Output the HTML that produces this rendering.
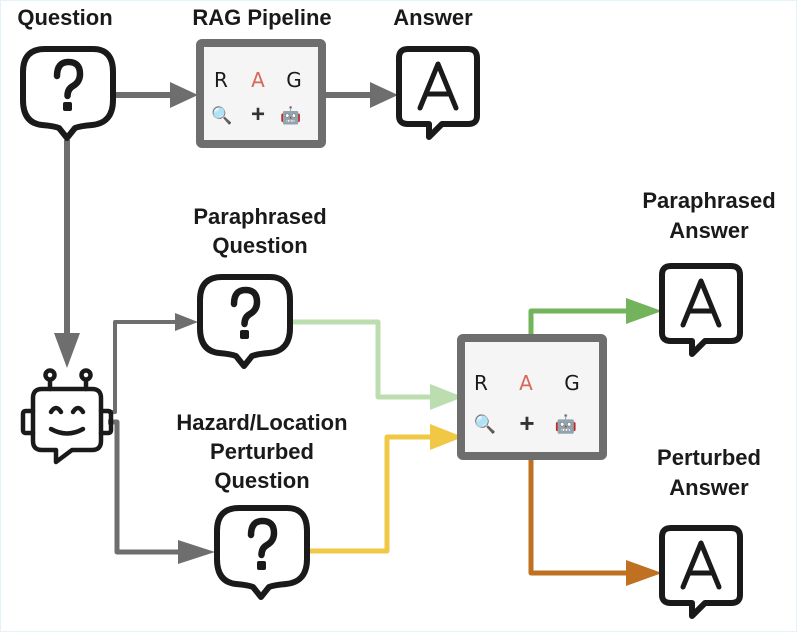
<!DOCTYPE html>
<html><head><meta charset="utf-8"><style>
html,body{margin:0;padding:0;background:#fff;}
svg{display:block;}
text{font-family:"Liberation Sans",sans-serif;}
.lbl{font-weight:bold;font-size:22px;fill:#1a1a1a;text-anchor:middle;}
.bub{fill:#fff;stroke:#1a1a1a;stroke-width:6;stroke-linejoin:round;stroke-linecap:round;}
.rag{font-size:20px;text-anchor:middle;font-family:"DejaVu Sans",sans-serif;}
</style></head><body>
<svg width="797" height="632" viewBox="0 0 797 632" xmlns="http://www.w3.org/2000/svg">
<rect x="0.5" y="0.5" width="796" height="631" fill="#fff" stroke="#e4f3fa"/>
<!-- labels -->
<text class="lbl" x="65" y="25">Question</text>
<text class="lbl" x="262" y="25">RAG Pipeline</text>
<text class="lbl" x="433" y="25">Answer</text>
<text class="lbl" x="260" y="224">Paraphrased</text>
<text class="lbl" x="260" y="253">Question</text>
<text class="lbl" x="262" y="430">Hazard/Location</text>
<text class="lbl" x="262" y="459">Perturbed</text>
<text class="lbl" x="262" y="488">Question</text>
<text class="lbl" x="709" y="208">Paraphrased</text>
<text class="lbl" x="709" y="238">Answer</text>
<text class="lbl" x="709" y="465">Perturbed</text>
<text class="lbl" x="709" y="495">Answer</text>

<!-- connectors -->
<g fill="none" stroke-linejoin="round">
<path d="M115 95 H172" stroke="#6e6e6e" stroke-width="6"/>
<path d="M325 95 H372" stroke="#6e6e6e" stroke-width="6"/>
<path d="M67 140 V335" stroke="#6e6e6e" stroke-width="6"/>
<path d="M108 412 H115 V322 H180" stroke="#6e6e6e" stroke-width="4"/>
<path d="M108 422 H117 V552 H185" stroke="#6e6e6e" stroke-width="5"/>
<path d="M292 322 H378 V397 H435" stroke="#bcddb0" stroke-width="5"/>
<path d="M308 551 H387 V437 H435" stroke="#f0c846" stroke-width="5"/>
<path d="M531 334 V311 H630" stroke="#72b35c" stroke-width="5"/>
<path d="M531 460 V573 H630" stroke="#bf7020" stroke-width="5"/>
</g>
<g stroke="none">
<polygon points="170,82 198,95 170,108" fill="#6e6e6e"/>
<polygon points="370,82 398,95 370,108" fill="#6e6e6e"/>
<polygon points="54,333 80,333 67,368" fill="#6e6e6e"/>
<polygon points="175,313 198,322 175,331" fill="#6e6e6e"/>
<polygon points="178,540 215,552 178,564" fill="#6e6e6e"/>
<polygon points="430,384 463,397 430,410" fill="#bcddb0"/>
<polygon points="430,424 463,437 430,450" fill="#f0c846"/>
<polygon points="626,298 662,311 626,324" fill="#72b35c"/>
<polygon points="626,560 662,573 626,586" fill="#bf7020"/>
</g>

<!-- RAG boxes -->
<rect x="200" y="43" width="122" height="101" fill="#f5f5f5" stroke="#6e6e6e" stroke-width="8" rx="2"/>
<text class="rag" x="221" y="87" fill="#1a1a1a">R</text>
<text class="rag" x="258" y="87" fill="#d9675a">A</text>
<text class="rag" x="294" y="87" fill="#1a1a1a">G</text>
<text x="222" y="121" font-size="17" text-anchor="middle">🔍</text>
<text x="258" y="122" font-size="24" font-weight="bold" fill="#333" text-anchor="middle">+</text>
<text x="291" y="121" font-size="17" text-anchor="middle">🤖</text>

<rect x="461" y="338" width="142" height="118" fill="#f5f5f5" stroke="#6e6e6e" stroke-width="8" rx="2"/>
<text class="rag" x="481" y="390" fill="#1a1a1a">R</text>
<text class="rag" x="526" y="390" fill="#d9675a">A</text>
<text class="rag" x="572" y="390" fill="#1a1a1a">G</text>
<text x="485" y="430" font-size="18" text-anchor="middle">🔍</text>
<text x="527" y="432" font-size="26" font-weight="bold" fill="#333" text-anchor="middle">+</text>
<text x="566" y="430" font-size="18" text-anchor="middle">🤖</text>

<!-- question bubbles -->
<g id="qb">
<path class="bub" d="M45 49 H93 Q113 49 113 72 V100 Q113 123 92 125 Q80 126 75 128 L67 138 L59 128 Q54 126 42 125 Q23 123 23 100 V72 Q23 49 45 49 Z"/>
<path d="M57 76 Q57 62 68.5 62 Q80 62 80 74 Q80 82 73 86 Q67.5 89 67.5 96" fill="none" stroke="#1a1a1a" stroke-width="6.5" stroke-linecap="round"/>
<rect x="63" y="102" width="9" height="9" rx="2" fill="#1a1a1a"/>
</g>
<use href="#qb" transform="translate(177,228)"/>
<use href="#qb" transform="translate(194,459)"/>

<!-- answer bubbles -->
<g id="ab">
<path class="bub" d="M408 49 H468 Q477 49 477 58 V116 Q477 124 468 124 H442 L429 137 V124 H408 Q399 124 399 116 V58 Q399 49 408 49 Z"/>
<path d="M420 108 L438 64 L456 108 M426 94 H450" fill="none" stroke="#1a1a1a" stroke-width="5" stroke-linejoin="round" stroke-linecap="round"/>
</g>
<use href="#ab" transform="translate(263,217)"/>
<use href="#ab" transform="translate(263,479)"/>

<!-- robot -->
<g fill="none" stroke="#1a1a1a" stroke-width="4.5" stroke-linecap="round" stroke-linejoin="round">
<path d="M42 389 H92 Q101 389 101 398 V441 Q101 450 92 450 H72 L56 462 V450 H42 Q33 450 33 441 V398 Q33 389 42 389 Z"/>
<path d="M33 411 H26 Q23 411 23 414 V430 Q23 433 26 433 H33"/>
<path d="M101 411 H108 Q111 411 111 414 V430 Q111 433 108 433 H101"/>
<path d="M50 389 V380 M86 389 V380"/>
<circle cx="50" cy="375" r="4.5"/>
<circle cx="86" cy="375" r="4.5"/>
<path d="M51 412 Q56 404 61 412 M73 412 Q78 404 83 412"/>
<path d="M51 429 Q67 438 83 429"/>
</g>
</svg>
</body></html>
